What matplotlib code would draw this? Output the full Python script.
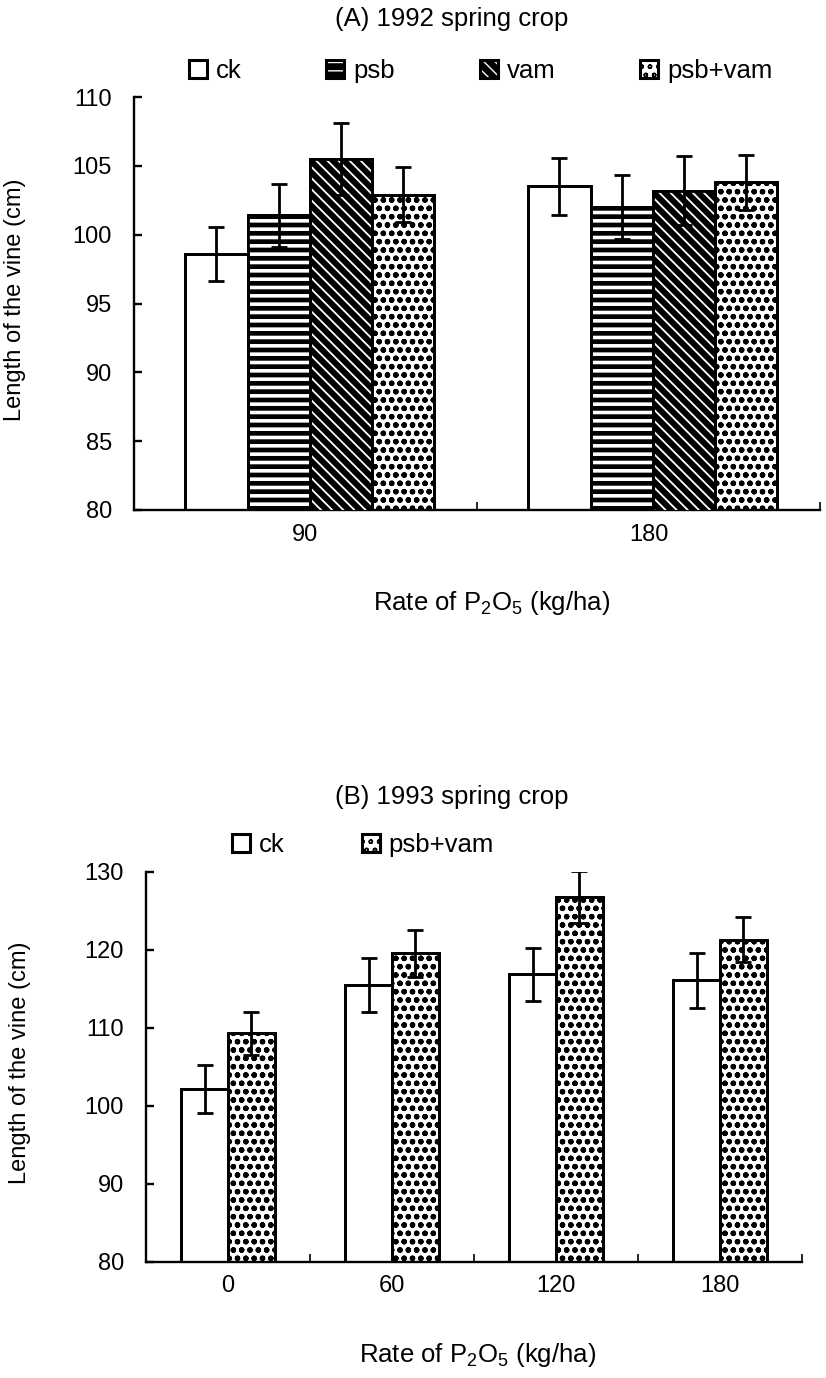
import numpy as np
import matplotlib
matplotlib.use("Agg")
from matplotlib import pyplot as plt
from matplotlib.patches import Patch

plt.rcParams["font.family"] = ["Liberation Sans", "DejaVu Sans"]
plt.rcParams["mathtext.default"] = "regular"

# (A) 1992 spring crop
rates_a = ["90", "180"]
ck_a = [98.6, 103.5]
ck_a_err = [1.95, 2.1]
psb_a = [101.4, 102.0]
psb_a_err = [2.3, 2.3]
vam_a = [105.5, 103.2]
vam_a_err = [2.6, 2.5]
both_a = [102.9, 103.8]
both_a_err = [2.0, 2.0]

# (B) 1993 spring crop
rates_b = ["0", "60", "120", "180"]
ck_b = [102.2, 115.5, 116.9, 116.1]
ck_b_err = [3.1, 3.5, 3.4, 3.5]
both_b = [109.3, 119.6, 126.8, 121.3]
both_b_err = [2.7, 3.0, 3.3, 2.9]

# face, hatch, hatch colour, hatch linewidth
styles = {
    "ck": ("white", None, None, 0),
    "psb": ("black", "--", "white", 2.6),
    "vam": ("black", "\\\\\\", "white", 1.3),
    "psb+vam": ("white", "oo", "black", 1.6),
}
EDGE = 2.0


def hatched_bar(ax, x, h, w, name):
    face, hatch, hcol, hlw = styles[name]
    ax.bar(x, h, w, color=face, edgecolor="black", linewidth=EDGE, zorder=2)
    if hatch:
        with plt.rc_context({"hatch.linewidth": hlw}):
            over = ax.bar(x, h, w, color="none", edgecolor=hcol, linewidth=0,
                          hatch=hatch, zorder=3)
        for p in over:
            if hasattr(p, "set_hatch_linewidth"):
                p.set_hatch_linewidth(hlw)
    ax.bar(x, h, w, color="none", edgecolor="black", linewidth=EDGE, zorder=4)


def legend_handle(name):
    face, hatch, hcol, hlw = styles[name]
    parts = [Patch(facecolor=face, edgecolor="none")]
    if hatch:
        p = Patch(facecolor="none", edgecolor=hcol, linewidth=0, hatch=hatch)
        if hasattr(p, "set_hatch_linewidth"):
            p.set_hatch_linewidth(hlw)
        parts.append(p)
    parts.append(Patch(facecolor="none", edgecolor="black", linewidth=2.2))
    return tuple(parts)


def style_axis(ax, ncat, ylo, yhi, ystep, xpad):
    for s in ["top", "right"]:
        ax.spines[s].set_visible(False)
    for s in ["left", "bottom"]:
        ax.spines[s].set_linewidth(1.7)
    ax.set_xlim(-0.5, ncat - 0.5)
    ax.set_ylim(ylo, yhi)
    ax.set_yticks(np.arange(ylo, yhi + 1, ystep))
    ax.set_xticks(np.arange(ncat) + 0.5)
    ax.set_xticklabels([])
    ax.tick_params(axis="y", direction="in", length=6, width=1.7, pad=16, labelsize=17)
    ax.tick_params(axis="x", which="major", direction="in", length=6, width=1.2)
    ax.tick_params(axis="x", which="minor", length=0, pad=xpad, labelsize=17)


fig = plt.figure(figsize=(8.26, 13.78), dpi=100)

# ---- panel A
ax_a = fig.add_axes([0.1622, 0.6299, 0.8305, 0.2997])
xa = np.arange(len(rates_a))
w = 0.181
series_a = [("ck", ck_a, ck_a_err), ("psb", psb_a, psb_a_err),
            ("vam", vam_a, vam_a_err), ("psb+vam", both_a, both_a_err)]
for i, (name, vals, err) in enumerate(series_a):
    pos = xa + (i - 1.5) * w + 0.012
    hatched_bar(ax_a, pos, vals, w, name)
    ax_a.errorbar(pos, vals, yerr=err, fmt="none", ecolor="black",
                  elinewidth=2.0, capsize=6, capthick=2.0, zorder=5)
style_axis(ax_a, len(rates_a), 80, 110, 5, 10)
ax_a.set_xticks(xa, minor=True)
ax_a.set_xticklabels(rates_a, minor=True)
ax_a.set_ylabel("Length of the vine (cm)", fontsize=17)
ax_a.yaxis.set_label_coords(-0.157, 0.51)
ax_a.legend([legend_handle(n) for n, _, _ in series_a], [n for n, _, _ in series_a],
            ncol=4, frameon=False, fontsize=18.5, loc="center left",
            bbox_to_anchor=(0.08, 1.063), borderaxespad=0, borderpad=0,
            handlelength=0.7, handleheight=0.7, handletextpad=0.35,
            columnspacing=3.3)

# ---- panel B
ax_b = fig.add_axes([0.1768, 0.0842, 0.7942, 0.2830])
xb = np.arange(len(rates_b))
wb = 0.285
series_b = [("ck", ck_b, ck_b_err), ("psb+vam", both_b, both_b_err)]
for i, (name, vals, err) in enumerate(series_b):
    pos = xb + (i - 0.5) * wb
    hatched_bar(ax_b, pos, vals, wb, name)
    ax_b.errorbar(pos, vals, yerr=err, fmt="none", ecolor="black",
                  elinewidth=2.0, capsize=6, capthick=2.0, zorder=5)
style_axis(ax_b, len(rates_b), 80, 130, 10, 9.5)
ax_b.set_xticks(xb, minor=True)
ax_b.set_xticklabels(rates_b, minor=True)
ax_b.set_ylabel("Length of the vine (cm)", fontsize=17)
ax_b.yaxis.set_label_coords(-0.175, 0.51)
ax_b.legend([legend_handle(n) for n, _, _ in series_b], [n for n, _, _ in series_b],
            ncol=2, frameon=False, fontsize=18.5, loc="center left",
            bbox_to_anchor=(0.131, 1.069), borderaxespad=0, borderpad=0,
            handlelength=0.7, handleheight=0.7, handletextpad=0.35,
            columnspacing=3.0)

fig.text(452 / 826, 1 - 19 / 1378, "(A) 1992 spring crop", fontsize=18.5,
         ha="center", va="center")
fig.text(452 / 826, 1 - 797 / 1378, "(B) 1993 spring crop", fontsize=18.5,
         ha="center", va="center")
fig.text(492 / 826, 1 - 603 / 1378, r"Rate of P$_2$O$_5$ (kg/ha)", fontsize=18.5,
         ha="center", va="center")
fig.text(478 / 826, 1 - 1355 / 1378, r"Rate of P$_2$O$_5$ (kg/ha)", fontsize=18.5,
         ha="center", va="center")

fig.savefig("out.png", dpi=100)
